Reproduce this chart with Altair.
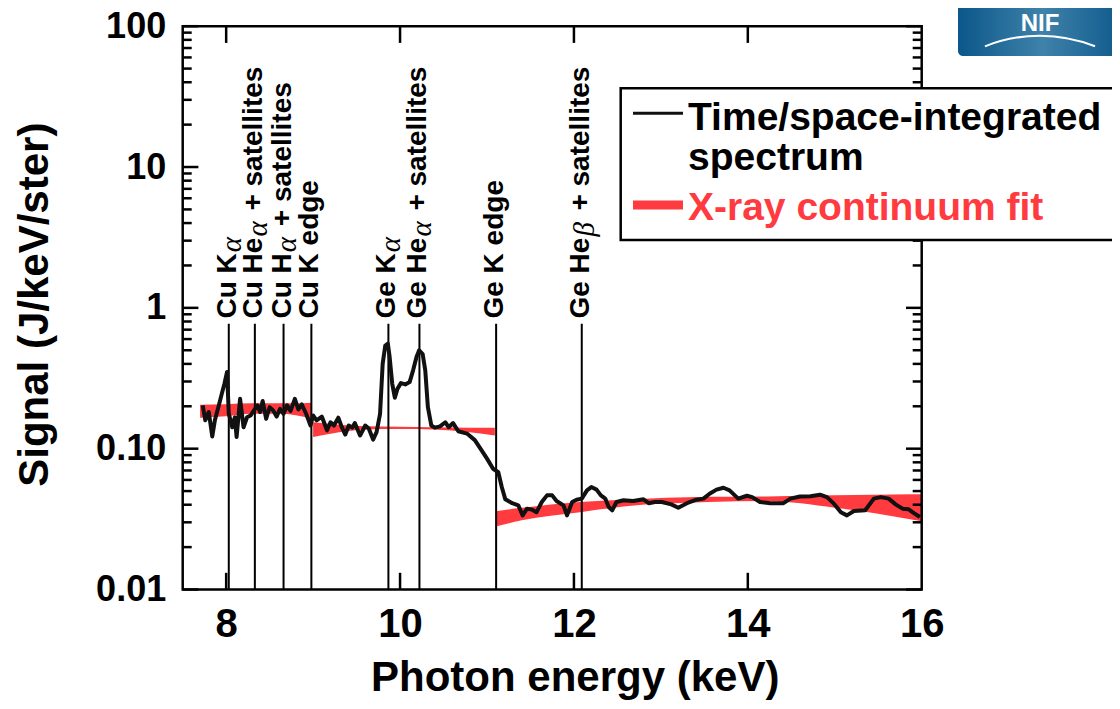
import altair as alt
import pandas as pd

FONT = "Liberation Sans"
RED = "#ff3b3f"
W, H = 739, 563.3

# ---------------- data ----------------
spec_energy = [7.73, 7.76, 7.80, 7.84, 7.87, 7.91, 7.95, 7.98, 8.01, 8.03, 8.07, 8.10, 8.12, 8.16, 8.20,
               8.24, 8.28, 8.32, 8.36, 8.39, 8.42, 8.46, 8.50, 8.54, 8.58, 8.62, 8.66, 8.70, 8.74, 8.79,
               8.83, 8.87, 8.92, 8.97, 9.00, 9.04, 9.10, 9.16, 9.20, 9.24, 9.29, 9.33, 9.37, 9.41, 9.45,
               9.48, 9.54, 9.60, 9.64, 9.69, 9.73, 9.77, 9.80, 9.83, 9.86, 9.88, 9.91, 9.94, 9.97, 10.01,
               10.06, 10.11, 10.15, 10.19, 10.22, 10.26, 10.29, 10.32, 10.36, 10.40, 10.46, 10.52, 10.56,
               10.61, 10.67, 10.77, 10.86, 10.94, 11.00, 11.07, 11.13, 11.17, 11.21, 11.29, 11.36, 11.41,
               11.46, 11.52, 11.57, 11.63, 11.69, 11.75, 11.80, 11.88, 11.92, 11.98, 12.03, 12.09, 12.15,
               12.20, 12.26, 12.31, 12.36, 12.40, 12.44, 12.49, 12.57, 12.68, 12.80, 12.86, 12.93, 13.01,
               13.12, 13.20, 13.30, 13.41, 13.49, 13.56, 13.64, 13.72, 13.79, 13.89, 13.99, 14.05, 14.14,
               14.26, 14.41, 14.49, 14.60, 14.72, 14.83, 14.91, 14.99, 15.07, 15.14, 15.22, 15.35, 15.45,
               15.53, 15.62, 15.70, 15.78, 15.85, 15.91, 15.98]
spec_signal = [0.203, 0.159, 0.182, 0.122, 0.159, 0.197, 0.246, 0.289, 0.35, 0.178, 0.142, 0.167, 0.121,
               0.226, 0.142, 0.167, 0.172, 0.187, 0.203, 0.182, 0.218, 0.163, 0.197, 0.187, 0.169, 0.192,
               0.177, 0.203, 0.185, 0.226, 0.190, 0.206, 0.177, 0.146, 0.172, 0.159, 0.169, 0.135, 0.154,
               0.146, 0.166, 0.142, 0.126, 0.146, 0.141, 0.152, 0.124, 0.146, 0.139, 0.116, 0.131, 0.177,
               0.40, 0.54, 0.557, 0.449, 0.289, 0.23, 0.266, 0.292, 0.286, 0.297, 0.36, 0.449, 0.50, 0.47,
               0.36, 0.197, 0.146, 0.141, 0.144, 0.154, 0.142, 0.152, 0.133, 0.128, 0.115, 0.097, 0.085,
               0.072, 0.068, 0.0534, 0.0438, 0.041, 0.0396, 0.0336, 0.0375, 0.0369, 0.0354, 0.0418, 0.0466,
               0.0466, 0.0425, 0.0396, 0.0336, 0.0418, 0.0434, 0.0442, 0.0506, 0.0534, 0.0512, 0.0466,
               0.0442, 0.0385, 0.0365, 0.0418, 0.0430, 0.0425, 0.0437, 0.0410, 0.0418, 0.0418, 0.0402,
               0.0381, 0.0410, 0.0434, 0.0442, 0.0479, 0.0512, 0.0528, 0.0506, 0.0442, 0.0463, 0.0453,
               0.0418, 0.0410, 0.0410, 0.0442, 0.0458, 0.0460, 0.0471, 0.0453, 0.0407, 0.0354, 0.0336,
               0.0361, 0.0365, 0.0442, 0.0453, 0.0442, 0.0402, 0.0375, 0.0371, 0.0349, 0.0327]

fit_segment = [1] * 6 + [2] * 7 + [3] * 9
fit_energy = [7.70, 8.00, 8.30, 8.60, 8.80, 8.98,
              9.00, 9.30, 9.62, 10.00, 10.38, 10.80, 11.09,
              11.10, 11.40, 12.07, 12.57, 13.55, 14.22, 15.00, 15.90, 16.00]
fit_upper = [0.205, 0.207, 0.210, 0.210, 0.210, 0.212,
             0.154, 0.148, 0.144, 0.143, 0.142, 0.141, 0.141,
             0.036, 0.038, 0.0418, 0.0434, 0.0455, 0.0458, 0.0466, 0.0474, 0.0475]
fit_lower = [0.166, 0.170, 0.177, 0.177, 0.173, 0.163,
             0.121, 0.131, 0.137, 0.138, 0.137, 0.131, 0.124,
             0.028, 0.031, 0.0354, 0.0389, 0.0418, 0.0425, 0.0381, 0.0313, 0.0305]

line_energy = [8.03, 8.33, 8.66, 8.98, 9.866, 10.223, 11.105, 12.09]
label_main = ["Cu K", "Cu He", "Cu H", "Cu K edge", "Ge K", "Ge He", "Ge K edge", "Ge He"]
label_sub = ["α", "α", "α", "", "α", "α", "", "β"]
label_suffix = ["", "+ satellites", "+ satellites", "", "", "+ satellites", "", "+ satellites"]
line_top = 0.77
label_base = 0.84

x_tick_values = [8, 10, 12, 14]
x_label_values = [8, 10, 12, 14, 16]
y_major_values = [0.01, 0.1, 1, 10, 100]
y_minor_values = [m * 10.0 ** d for d in (-2, -1, 0, 1) for m in range(2, 10)]

legend_labels = ["Time/space-integrated", "spectrum", "X-ray continuum fit"]

# ---------------- scales / axes ----------------
xscale = alt.Scale(domain=[7.5, 16], nice=False, zero=False)
yscale = alt.Scale(type="log", domain=[0.01, 100], nice=False)

xaxis = alt.Axis(values=x_label_values, ticks=False, domain=False, grid=False,
                 labelFont=FONT, labelFontSize=40, labelFontWeight="bold", labelColor="black",
                 labelPadding=15, labelFlush=False, labelOverlap=False,
                 title="Photon energy (keV)", titleFont=FONT, titleFontSize=42,
                 titleFontWeight="bold", titleColor="black", titleX=392, titleY=101,
                 titleAlign="center", titleBaseline="alphabetic")
yaxis = alt.Axis(values=y_major_values, ticks=False, domain=False, grid=False,
                 labelExpr="datum.value < 0.05 ? '0.01' : (datum.value < 0.5 ? '0.10' : format(datum.value, 'd'))",
                 labelFont=FONT, labelFontSize=36, labelFontWeight="bold", labelColor="black",
                 labelPadding=17, labelFlush=False, labelOverlap=False,
                 title="Signal (J/keV/ster)", titleFont=FONT, titleFontSize=42,
                 titleFontWeight="bold", titleColor="black", titleX=-148, titleY=278,
                 titleAngle=270, titleAlign="center", titleBaseline="middle")

X = alt.X("e:Q", scale=xscale, axis=xaxis)
Y = alt.Y("v:Q", scale=yscale, axis=yaxis)

spec_df = pd.DataFrame({"e": spec_energy, "v": spec_signal})
fit_df = pd.DataFrame({"e": fit_energy, "v": fit_lower, "v2": fit_upper, "seg": fit_segment})
lines_df = pd.DataFrame({"e": line_energy, "v": [line_top] * len(line_energy),
                         "v2": [0.01] * len(line_energy)})
one = pd.DataFrame({"d": [0]})

layers = []

# continuum fit bands
layers.append(alt.Chart(fit_df).mark_area(color=RED, interpolate="monotone").encode(
    x=X, y=Y, y2="v2:Q", detail="seg:N"))

# line annotation rules
layers.append(alt.Chart(lines_df).mark_rule(color="black", strokeWidth=2).encode(
    x=X, y=Y, y2="v2:Q"))

# spectrum
layers.append(alt.Chart(spec_df).mark_line(color="#111111", strokeWidth=4,
                                          strokeJoin="round").encode(x=X, y=Y))

# inward ticks
ymaj = pd.DataFrame({"v": y_major_values})
ymin = pd.DataFrame({"v": y_minor_values})
xmaj = pd.DataFrame({"e": x_tick_values})
tick_kw = dict(color="black", strokeWidth=2.5)
layers.append(alt.Chart(ymaj).mark_rule(**tick_kw).encode(y=Y, x=alt.value(0), x2=alt.value(15.7)))
layers.append(alt.Chart(ymin).mark_rule(**tick_kw).encode(y=Y, x=alt.value(0), x2=alt.value(9)))
layers.append(alt.Chart(ymaj).mark_rule(**tick_kw).encode(y=Y, x=alt.value(W - 15.7), x2=alt.value(W)))
layers.append(alt.Chart(ymin).mark_rule(**tick_kw).encode(y=Y, x=alt.value(W - 9), x2=alt.value(W)))
layers.append(alt.Chart(xmaj).mark_rule(**tick_kw).encode(x=X, y=alt.value(H), y2=alt.value(H - 16.7)))
layers.append(alt.Chart(xmaj).mark_rule(**tick_kw).encode(x=X, y=alt.value(0), y2=alt.value(16.7)))

# frame
layers.append(alt.Chart(one).mark_rect(fillOpacity=0, stroke="black", strokeWidth=2.5).encode(
    x=alt.value(0), x2=alt.value(W), y=alt.value(0), y2=alt.value(H)))

# vertical labels
CW = {"C": .722, "u": .611, " ": .278, "K": .722, "H": .722, "e": .556, "G": .778}
ANN = 28


def tw(s):
    return sum(CW.get(c, .556) for c in s) * ANN


main_df = pd.DataFrame({"e": line_energy, "v": [label_base] * len(line_energy), "t": label_main})
layers.append(alt.Chart(main_df).mark_text(
    angle=270, align="left", baseline="alphabetic", dy=7, font=FONT, fontSize=ANN,
    fontWeight="bold", color="black").encode(x=X, y=Y, text="t:N"))
for e, m, s, suf in zip(line_energy, label_main, label_sub, label_suffix):
    if s:
        d = pd.DataFrame({"e": [e], "v": [label_base], "t": [s]})
        layers.append(alt.Chart(d).mark_text(
            angle=270, align="left", baseline="alphabetic", dx=tw(m) + 1, dy=12,
            font="Liberation Serif", fontStyle="italic", fontSize=29, color="black").encode(
            x=X, y=Y, text="t:N"))
    if suf:
        d = pd.DataFrame({"e": [e], "v": [label_base], "t": [suf]})
        layers.append(alt.Chart(d).mark_text(
            angle=270, align="left", baseline="alphabetic", dx=tw(m) + 1 + 17 + 9, dy=7,
            font=FONT, fontSize=ANN, fontWeight="bold", color="black").encode(
            x=X, y=Y, text="t:N"))

# legend box
layers.append(alt.Chart(one).mark_rect(fill="white", stroke="black", strokeWidth=2.5).encode(
    x=alt.value(438), x2=alt.value(960), y=alt.value(62.1), y2=alt.value(213.8)))
layers.append(alt.Chart(one).mark_rule(color="#111111", strokeWidth=3).encode(
    x=alt.value(450.3), x2=alt.value(500.3), y=alt.value(87.1)))
layers.append(alt.Chart(one).mark_rule(color=RED, strokeWidth=9).encode(
    x=alt.value(450.3), x2=alt.value(500.3), y=alt.value(178.8)))
for txt, yy, col in zip(legend_labels, [103.8, 143.8, 193.8], ["black", "black", RED]):
    layers.append(alt.Chart(pd.DataFrame({"t": [txt]})).mark_text(
        align="left", baseline="alphabetic", font=FONT, fontSize=39, fontWeight="bold",
        color=col).encode(x=alt.value(505.3), y=alt.value(yy), text="t:N"))

# NIF logo (decoration)
grad = alt.LinearGradient(gradient="linear", x1=0, x2=1, y1=0, y2=0,
                          stops=[alt.GradientStop(offset=0, color="#0b578a"),
                                 alt.GradientStop(offset=0.5, color="#3f82aa"),
                                 alt.GradientStop(offset=1, color="#0b578a")])
layers.append(alt.Chart(one).mark_rect(color=grad, cornerRadius=5).encode(
    x=alt.value(775.3), x2=alt.value(945), y=alt.value(-40), y2=alt.value(29.8)))
layers.append(alt.Chart(pd.DataFrame({"t": ["NIF"]})).mark_text(
    align="center", baseline="alphabetic", font=FONT, fontSize=24, fontWeight="bold",
    color="white").encode(x=alt.value(857.3), y=alt.value(5), text="t:N"))
layers.append(alt.Chart(one).mark_arc(radius=149, radius2=147, theta=5.902, theta2=6.664,
                                      color="white").encode(
    x=alt.value(857.3), y=alt.value(157.5)))

chart = alt.layer(*layers).properties(
    width=W, height=H,
    autosize=alt.AutoSizeParams(type="none"),
    padding={"left": 174.7, "top": 18.2, "right": 190.3, "bottom": 111.5},
).configure_view(stroke=None)

chart.save("out.html", embed_options={"renderer": "svg", "actions": False})
